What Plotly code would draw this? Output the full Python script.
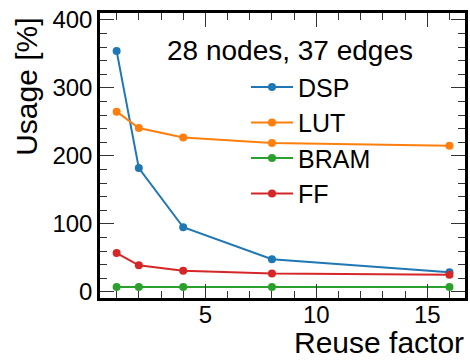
import plotly.graph_objects as go

# Resource usage vs. reuse factor
reuse_factor = [1, 2, 4, 8, 16]
dsp = [354, 182, 95, 48, 29]
lut = [265, 241, 227, 219, 215]
bram = [7, 7, 7, 7, 7]
ff = [57, 39, 31, 27, 25]

series = [
    ("DSP", dsp, "#1f77b4"),
    ("LUT", lut, "#ff7f0e"),
    ("BRAM", bram, "#2ca02c"),
    ("FF", ff, "#d62728"),
]

FONT = "Liberation Sans, Arial, sans-serif"

fig = go.Figure()
for name, vals, color in series:
    fig.add_trace(go.Scatter(
        x=reuse_factor, y=vals, name=name, legendgroup=name,
        mode="lines+markers",
        line=dict(color=color, width=2),
        marker=dict(color=color, size=8),
    ))

axis_common = dict(
    showline=True, linecolor="black", linewidth=2.5, mirror="ticks",
    ticks="inside", ticklen=14, tickwidth=1.3, tickcolor="#333",
    showgrid=False, zeroline=False,
    tickfont=dict(family=FONT, size=24, color="black"),
)

fig.update_xaxes(
    range=[0.25, 16.7], tickvals=[5, 10, 15], ticklabelstandoff=-7,
    minor=dict(ticks="inside", ticklen=7, tickwidth=1, tickcolor="#333", dtick=1, tick0=0),
    **axis_common,
)
fig.update_yaxes(
    range=[-9, 410], tickvals=[0, 100, 200, 300, 400],
    minor=dict(ticks="inside", ticklen=7, tickwidth=1, tickcolor="#333", dtick=20, tick0=0),
    **axis_common,
)

fig.add_annotation(
    text="Usage [%]", xref="paper", yref="paper", x=-0.2, y=0.99,
    xanchor="center", yanchor="top", textangle=-90, showarrow=False,
    font=dict(family=FONT, size=30, color="black"),
)
fig.add_annotation(
    text="Reuse factor", xref="paper", yref="paper", x=1.0, y=-0.2175,
    xanchor="right", yanchor="bottom", showarrow=False, borderpad=0,
    font=dict(family=FONT, size=30, color="black"),
)
fig.add_annotation(
    text="28 nodes, 37 edges", xref="paper", yref="paper", x=0.52, y=0.87,
    xanchor="center", yanchor="middle", showarrow=False,
    font=dict(family=FONT, size=28, color="black"),
)

fig.update_layout(
    width=470, height=360,
    margin=dict(l=100, r=2, t=13, b=62),
    paper_bgcolor="white", plot_bgcolor="white",
    showlegend=True,
    legend=dict(
        x=0.40, y=0.82, xanchor="left", yanchor="top",
        bgcolor="rgba(0,0,0,0)", borderwidth=0,
        font=dict(family=FONT, size=25, color="black"),
        traceorder="grouped", tracegroupgap=0, itemwidth=42,
    ),
)

fig.write_html("out.html")
